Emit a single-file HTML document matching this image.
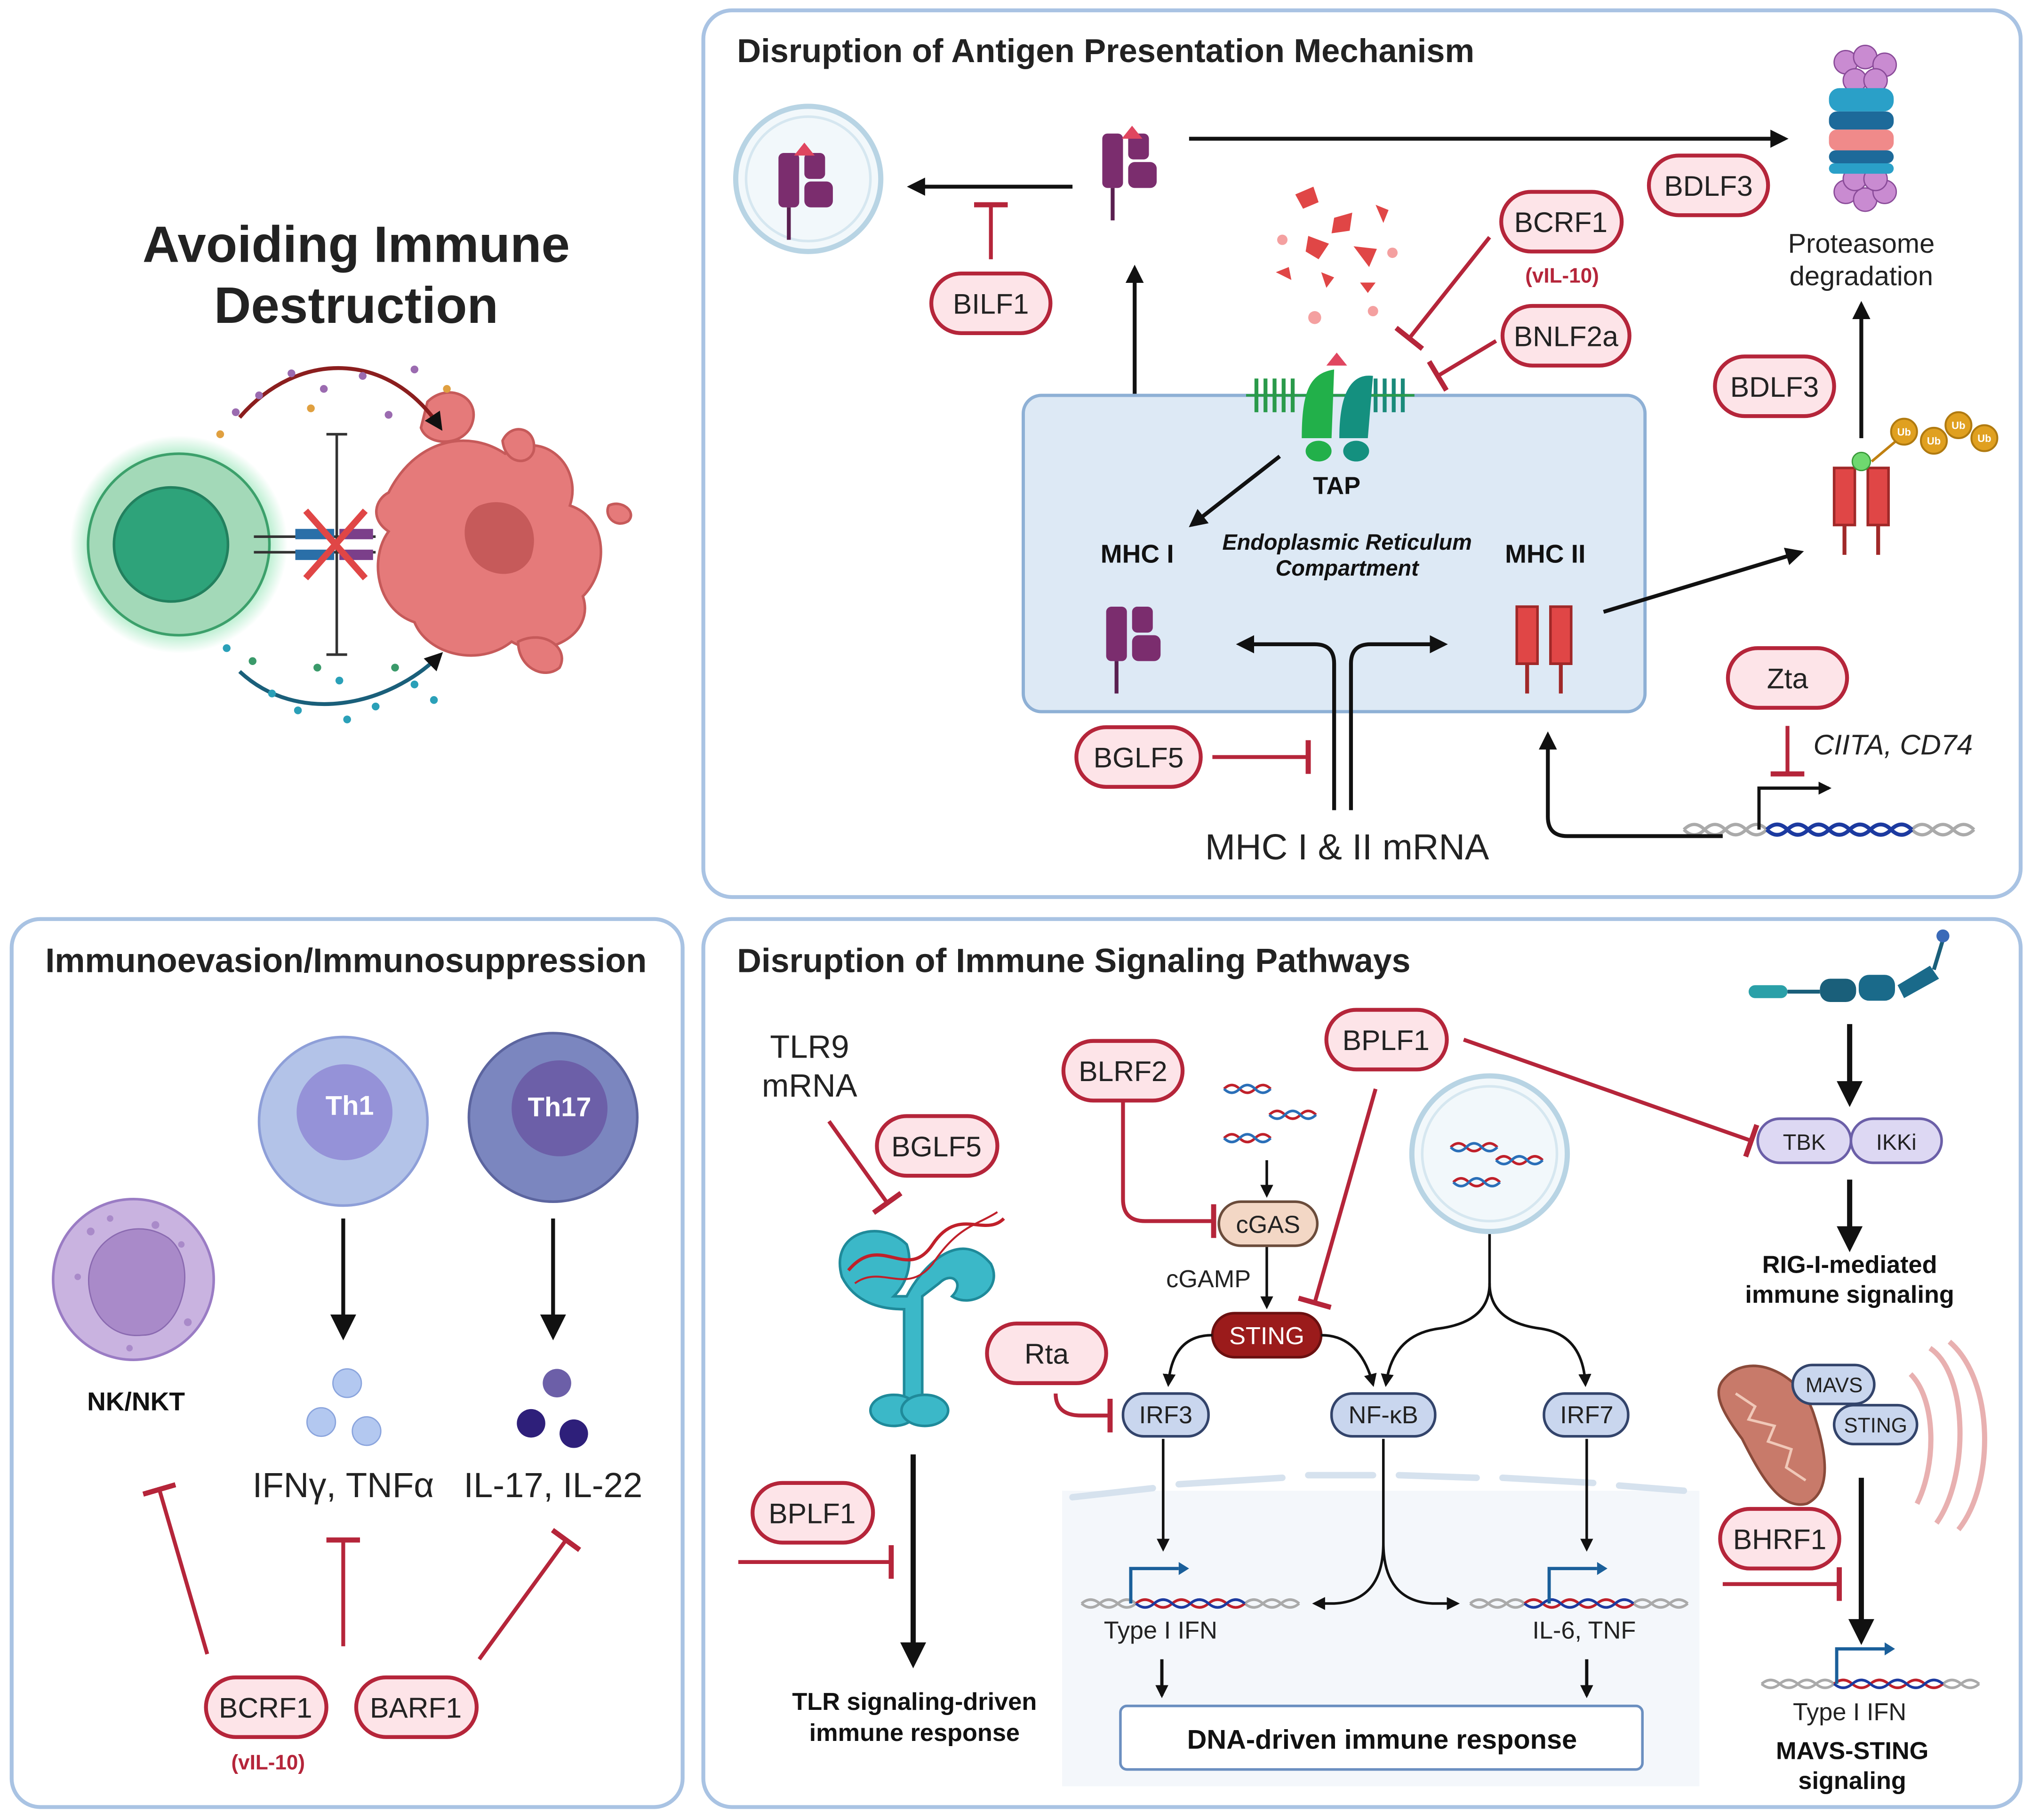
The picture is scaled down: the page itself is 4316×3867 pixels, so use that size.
<!DOCTYPE html>
<html><head><meta charset="utf-8">
<style>
html,body{margin:0;padding:0;background:#fff;}
svg{display:block;}
text{font-family:"Liberation Sans",sans-serif;}
</style></head>
<body>
<svg width="4316" height="3867" viewBox="0 0 1568 1404" preserveAspectRatio="none" xmlns="http://www.w3.org/2000/svg">
<defs>
<marker id="a" viewBox="0 0 10 10" refX="8" refY="5" markerUnits="userSpaceOnUse" markerWidth="14" markerHeight="14" orient="auto"><path d="M0,0L10,5L0,10z" fill="#111"/></marker>
<marker id="as" viewBox="0 0 10 10" refX="8" refY="5" markerUnits="userSpaceOnUse" markerWidth="10" markerHeight="10" orient="auto"><path d="M0,0L10,5L0,10z" fill="#111"/></marker>
<marker id="ab" viewBox="0 0 10 10" refX="8" refY="5" markerUnits="userSpaceOnUse" markerWidth="20" markerHeight="20" orient="auto"><path d="M0,0L10,5L0,10z" fill="#111"/></marker>
<marker id="i" viewBox="0 0 4 10" refX="2" refY="5" markerUnits="userSpaceOnUse" markerWidth="4" markerHeight="26" orient="auto" preserveAspectRatio="none"><rect x="0" y="0" width="4" height="10" fill="#b5253a"/></marker>
<radialGradient id="glow"><stop offset="0.75" stop-color="#7fe0a8" stop-opacity="0.8"/><stop offset="1" stop-color="#7fe0a8" stop-opacity="0"/></radialGradient>
<g id="mhc1"><rect x="-24" y="-22" width="16" height="42" rx="4" fill="#7b2d6e"/><rect x="-4" y="-22" width="16" height="20" rx="4" fill="#7b2d6e"/><rect x="-4" y="0" width="22" height="20" rx="5" fill="#7b2d6e"/><line x1="-16" y1="20" x2="-16" y2="45" stroke="#5a1f50" stroke-width="3"/></g>
<g id="mhc2"><path d="M-24,-22h16v44h-16z M2,-22h16v44h-16z" fill="#e04646" stroke="#a02828" stroke-width="2"/><line x1="-16" y1="22" x2="-16" y2="45" stroke="#a02828" stroke-width="3"/><line x1="10" y1="22" x2="10" y2="45" stroke="#a02828" stroke-width="3"/></g>
</defs>

<!-- Panels -->
<g fill="#fff" stroke="#a9c3e3" stroke-width="3">
<rect x="543" y="8" width="1017" height="684" rx="22"/>
<rect x="9" y="709" width="518" height="685" rx="22"/>
<rect x="543" y="709" width="1017" height="685" rx="22"/>
</g>

<!-- Top-left -->
<text x="275" y="202" font-size="39.5" font-weight="bold" text-anchor="middle" fill="#222">Avoiding Immune</text>
<text x="275" y="249" font-size="39.5" font-weight="bold" text-anchor="middle" fill="#222">Destruction</text>
<circle cx="138" cy="420" r="84" fill="url(#glow)"/>
<circle cx="138" cy="420" r="70" fill="#a3d9b8" stroke="#3ca06b" stroke-width="2"/>
<circle cx="132" cy="420" r="44" fill="#2ea37a" stroke="#22805e" stroke-width="2"/>
<g fill="#e57a7a" stroke="#c65a5a" stroke-width="2">
<path d="M300,380 C320,340 360,330 390,350 C420,330 450,360 440,390 C470,400 470,440 450,460 C460,490 420,510 395,495 C370,515 330,505 320,480 C290,470 285,430 300,410 C285,400 290,385 300,380z"/>
<path d="M330,310 C345,295 370,305 365,325 C360,345 330,345 325,330z"/>
<path d="M388,340 C395,325 415,330 412,348 C408,360 390,358 388,340z"/>
<path d="M400,495 C420,485 440,500 432,515 C420,525 400,515 400,495z"/>
<path d="M470,390 C480,385 492,395 485,402 C475,408 466,398 470,390z"/>
</g>
<path d="M370,390 C395,380 420,400 410,430 C400,450 370,445 362,425 C355,410 360,395 370,390z" fill="#c65a5a"/>
<g stroke="#333" stroke-width="2">
<line x1="196" y1="414" x2="290" y2="414"/><line x1="196" y1="426" x2="290" y2="426"/>
<line x1="260" y1="335" x2="260" y2="505"/><line x1="252" y1="335" x2="268" y2="335"/><line x1="252" y1="505" x2="268" y2="505"/>
</g>
<rect x="228" y="408" width="30" height="8" fill="#2a6fa8"/><rect x="228" y="424" width="30" height="8" fill="#2a6fa8"/>
<rect x="262" y="408" width="26" height="8" fill="#7b3f8a"/><rect x="262" y="424" width="26" height="8" fill="#7b3f8a"/>
<path d="M236,394 L282,446 M282,394 L236,446" stroke="#e04646" stroke-width="5"/>
<path d="M185,322 C230,270 300,270 340,330" fill="none" stroke="#8b1e1e" stroke-width="3" marker-end="url(#a)"/>
<path d="M185,518 C230,560 300,545 340,505" fill="none" stroke="#1a5f7a" stroke-width="3" marker-end="url(#a)"/>
<g fill="#9b6bb0"><circle cx="225" cy="288" r="3"/><circle cx="250" cy="300" r="3"/><circle cx="200" cy="305" r="3"/><circle cx="280" cy="290" r="3"/><circle cx="300" cy="320" r="3"/><circle cx="320" cy="285" r="3"/><circle cx="182" cy="318" r="3"/></g>
<g fill="#e0a040"><circle cx="240" cy="315" r="3"/><circle cx="345" cy="300" r="3"/><circle cx="170" cy="335" r="3"/></g>
<g fill="#2aa0b8"><circle cx="175" cy="500" r="3"/><circle cx="210" cy="535" r="3"/><circle cx="230" cy="548" r="3"/><circle cx="262" cy="525" r="3"/><circle cx="290" cy="545" r="3"/><circle cx="320" cy="528" r="3"/><circle cx="335" cy="540" r="3"/><circle cx="268" cy="555" r="3"/></g>
<g fill="#3a9a6a"><circle cx="195" cy="510" r="3"/><circle cx="245" cy="515" r="3"/><circle cx="305" cy="515" r="3"/></g>

<!-- Top-right panel -->
<text x="569" y="48" font-size="25.6" font-weight="bold" fill="#222">Disruption of Antigen Presentation Mechanism</text>
<circle cx="624" cy="138" r="56" fill="#f2f8fb" stroke="#b8d4e4" stroke-width="4"/>
<circle cx="624" cy="138" r="48" fill="none" stroke="#d6e7f0" stroke-width="2"/>
<use href="#mhc1" x="625" y="140"/><path d="M613,120 l8,-10 l8,10z" fill="#e04660"/>
<use href="#mhc1" x="875" y="125"/><path d="M866,107 l8,-10 l8,10z" fill="#e04660"/>
<line x1="828" y1="144" x2="703" y2="144" stroke="#111" stroke-width="3" marker-end="url(#a)"/>
<line x1="765" y1="200" x2="765" y2="158" stroke="#b5253a" stroke-width="3" marker-end="url(#i)"/>
<line x1="918" y1="107" x2="1378" y2="107" stroke="#111" stroke-width="3" marker-end="url(#a)"/>
<line x1="876" y1="400" x2="876" y2="207" stroke="#111" stroke-width="3" marker-end="url(#a)"/>
<!-- proteasome -->
<g>
<g fill="#c98bd1" stroke="#8a4b99" stroke-width="1"><circle cx="1425" cy="48" r="9"/><circle cx="1440" cy="44" r="9"/><circle cx="1455" cy="50" r="9"/><circle cx="1432" cy="62" r="9"/><circle cx="1448" cy="62" r="9"/>
<circle cx="1425" cy="148" r="9"/><circle cx="1440" cy="154" r="9"/><circle cx="1455" cy="148" r="9"/><circle cx="1432" cy="138" r="9"/><circle cx="1448" cy="138" r="9"/></g>
<rect x="1412" y="68" width="50" height="18" rx="8" fill="#2aa0c8"/>
<rect x="1412" y="86" width="50" height="14" rx="6" fill="#1d6a9a"/>
<rect x="1412" y="100" width="50" height="16" rx="6" fill="#f08a8a"/>
<rect x="1412" y="116" width="50" height="10" rx="5" fill="#1d6a9a"/>
<rect x="1412" y="126" width="50" height="8" rx="4" fill="#2aa0c8"/>
</g>
<text x="1437" y="195" font-size="21" text-anchor="middle" fill="#222">Proteasome</text>
<text x="1437" y="220" font-size="21" text-anchor="middle" fill="#222">degradation</text>
<!-- fragments -->
<g fill="#e04646"><path d="M1000,150 l14,-6 l4,12 l-12,5z"/><path d="M1030,168 l14,-4 l-2,14 l-14,2z"/><path d="M1045,190 l18,2 l-6,14z"/><path d="M1010,182 l16,6 l-8,12 l-10,-6z"/><path d="M1062,158 l10,4 l-4,10z"/><path d="M985,210 l10,-4 l2,10z"/><path d="M1020,210 l10,4 l-6,8z"/><path d="M1050,218 l12,0 l-6,8z"/></g>
<g fill="#f4a0a0"><circle cx="990" cy="185" r="4"/><circle cx="1075" cy="195" r="4"/><circle cx="1015" cy="245" r="5"/><circle cx="1060" cy="240" r="4"/></g>
<line x1="1150" y1="183" x2="1088" y2="261" stroke="#b5253a" stroke-width="3" marker-end="url(#i)"/>
<line x1="1155" y1="263" x2="1110" y2="290" stroke="#b5253a" stroke-width="3" marker-end="url(#i)"/>
<!-- ER -->
<rect x="790" y="305" width="480" height="244" rx="14" fill="#dde9f5" stroke="#8eb0d5" stroke-width="2.5"/>
<!-- TAP -->
<g stroke="#2a9a4a" stroke-width="3"><line x1="970" y1="292" x2="970" y2="318"/><line x1="977" y1="292" x2="977" y2="318"/><line x1="984" y1="292" x2="984" y2="318"/><line x1="991" y1="292" x2="991" y2="318"/><line x1="998" y1="292" x2="998" y2="318"/></g>
<g stroke="#1a8a7a" stroke-width="3"><line x1="1062" y1="292" x2="1062" y2="318"/><line x1="1069" y1="292" x2="1069" y2="318"/><line x1="1076" y1="292" x2="1076" y2="318"/><line x1="1083" y1="292" x2="1083" y2="318"/></g>
<line x1="962" y1="305" x2="1092" y2="305" stroke="#2a9a4a" stroke-width="2"/>
<path d="M1005,338 C1005,300 1012,288 1030,285 L1028,338z" fill="#22b04a"/>
<path d="M1034,338 C1034,300 1045,288 1060,290 L1056,338z" fill="#14907f"/>
<ellipse cx="1018" cy="348" rx="10" ry="8" fill="#22b04a"/><ellipse cx="1047" cy="348" rx="10" ry="8" fill="#14907f"/>
<path d="M1024,282 l8,-10 l8,10z" fill="#e04660"/>
<text x="1032" y="381" font-size="19" font-weight="bold" text-anchor="middle" fill="#111">TAP</text>
<line x1="988" y1="352" x2="920" y2="405" stroke="#111" stroke-width="3" marker-end="url(#a)"/>
<text x="878" y="434" font-size="20" font-weight="bold" text-anchor="middle" fill="#111">MHC I</text>
<text x="1040" y="424" font-size="17" font-weight="bold" font-style="italic" text-anchor="middle" fill="#111">Endoplasmic Reticulum</text>
<text x="1040" y="444" font-size="17" font-weight="bold" font-style="italic" text-anchor="middle" fill="#111">Compartment</text>
<text x="1193" y="434" font-size="20" font-weight="bold" text-anchor="middle" fill="#111">MHC II</text>
<use href="#mhc1" x="878" y="490"/>
<use href="#mhc2" x="1195" y="490"/>
<line x1="1238" y1="472" x2="1390" y2="426" stroke="#111" stroke-width="3" marker-end="url(#a)"/>
<use href="#mhc2" x="1440" y="383"/>
<circle cx="1437" cy="356" r="7" fill="#6fd86f" stroke="#3a9a3a"/>
<line x1="1445" y1="356" x2="1470" y2="335" stroke="#c08010" stroke-width="2"/>
<g fill="#e0a020" stroke="#b07a10" stroke-width="1.5"><circle cx="1470" cy="333" r="10"/><circle cx="1493" cy="340" r="10"/><circle cx="1512" cy="328" r="10"/><circle cx="1532" cy="338" r="10"/></g>
<g font-size="8" font-weight="bold" fill="#fff" text-anchor="middle"><text x="1470" y="336">Ub</text><text x="1493" y="343">Ub</text><text x="1512" y="331">Ub</text><text x="1532" y="341">Ub</text></g>
<line x1="1437" y1="338" x2="1437" y2="235" stroke="#111" stroke-width="3" marker-end="url(#a)"/>
<line x1="1380" y1="560" x2="1380" y2="597" stroke="#b5253a" stroke-width="3" marker-end="url(#i)"/>
<text x="1400" y="582" font-size="22" font-style="italic" fill="#222">CIITA, CD74</text>
<!-- DNA top -->
<path d="M1300,640 q8,-8 16,0 t16,0 t16,0 t16,0 t16,0 t16,0 t16,0 t16,0 t16,0 t16,0 t16,0 t16,0 t16,0 t16,0" fill="none" stroke="#aaa" stroke-width="2.5"/>
<path d="M1300,640 q8,8 16,0 t16,0 t16,0 t16,0 t16,0 t16,0 t16,0 t16,0 t16,0 t16,0 t16,0 t16,0 t16,0 t16,0" fill="none" stroke="#aaa" stroke-width="2.5"/>
<path d="M1364,640 q8,-8 16,0 t16,0 t16,0 t16,0 t16,0 t16,0 t16,0" fill="none" stroke="#1c3aa0" stroke-width="3"/>
<path d="M1364,640 q8,8 16,0 t16,0 t16,0 t16,0 t16,0 t16,0 t16,0" fill="none" stroke="#1c3aa0" stroke-width="3"/>
<path d="M1358,640 V608 H1412" fill="none" stroke="#111" stroke-width="2.5" marker-end="url(#as)"/>
<path d="M1330,645 H1210 Q1195,645 1195,630 V567" fill="none" stroke="#111" stroke-width="3" marker-end="url(#a)"/>
<!-- mRNA -->
<path d="M1030,625 V512 Q1030,497 1015,497 H957" fill="none" stroke="#111" stroke-width="3" marker-end="url(#a)"/>
<path d="M1043,625 V512 Q1043,497 1058,497 H1115" fill="none" stroke="#111" stroke-width="3" marker-end="url(#a)"/>
<line x1="936" y1="584" x2="1010" y2="584" stroke="#b5253a" stroke-width="3" marker-end="url(#i)"/>
<text x="1040" y="663" font-size="28" text-anchor="middle" fill="#222">MHC I &amp; II mRNA</text>

<!-- pills -->
<g fill="#fde4e8" stroke="#b5253a" stroke-width="3">
<rect x="719" y="211" width="92" height="46" rx="23"/>
<rect x="1273" y="120" width="92" height="46" rx="23"/>
<rect x="1159" y="148" width="93" height="46" rx="23"/>
<rect x="1160" y="236" width="98" height="46" rx="23"/>
<rect x="1324" y="275" width="92" height="46" rx="23"/>
<rect x="1334" y="500" width="92" height="46" rx="23"/>
<rect x="831" y="561" width="96" height="46" rx="23"/>
<rect x="159" y="1294" width="93" height="46" rx="23"/>
<rect x="275" y="1294" width="93" height="46" rx="23"/>
<rect x="677" y="861" width="93" height="46" rx="23"/>
<rect x="581" y="1144" width="93" height="46" rx="23"/>
<rect x="821" y="803" width="92" height="46" rx="23"/>
<rect x="1024" y="779" width="93" height="46" rx="23"/>
<rect x="762" y="1021" width="92" height="46" rx="23"/>
<rect x="1328" y="1164" width="92" height="46" rx="23"/>
</g>
<g font-size="22" text-anchor="middle" fill="#222">
<text x="765" y="242">BILF1</text>
<text x="1319" y="151">BDLF3</text>
<text x="1205" y="179">BCRF1</text>
<text x="1209" y="267">BNLF2a</text>
<text x="1370" y="306">BDLF3</text>
<text x="1380" y="531">Zta</text>
<text x="879" y="592">BGLF5</text>
<text x="205" y="1325">BCRF1</text>
<text x="321" y="1325">BARF1</text>
<text x="723" y="892">BGLF5</text>
<text x="627" y="1175">BPLF1</text>
<text x="867" y="834">BLRF2</text>
<text x="1070" y="810">BPLF1</text>
<text x="808" y="1052">Rta</text>
<text x="1374" y="1195">BHRF1</text>
</g>
<text x="1206" y="218" font-size="16" font-weight="bold" text-anchor="middle" fill="#b5253a">(vIL-10)</text>
<text x="207" y="1365" font-size="16" font-weight="bold" text-anchor="middle" fill="#b5253a">(vIL-10)</text>

<!-- Bottom-left -->
<text x="35" y="750" font-size="26.2" font-weight="bold" fill="#222">Immunoevasion/Immunosuppression</text>
<circle cx="265" cy="865" r="65" fill="#b3c3e8" stroke="#8e9fd8" stroke-width="2"/>
<circle cx="266" cy="858" r="37" fill="#9592d8"/>
<text x="270" y="860" font-size="21" font-weight="bold" text-anchor="middle" fill="#fff">Th1</text>
<circle cx="427" cy="862" r="65" fill="#7b86bf" stroke="#5c659f" stroke-width="2"/>
<circle cx="432" cy="855" r="37" fill="#6c5fa8"/>
<text x="432" y="861" font-size="21" font-weight="bold" text-anchor="middle" fill="#fff">Th17</text>
<circle cx="103" cy="987" r="62" fill="#c9b3e0" stroke="#9a7cc4" stroke-width="2"/>
<path d="M70,1000 C60,960 100,935 130,955 C155,975 140,1030 110,1030 C90,1032 75,1020 70,1000z" fill="#a98ac9" stroke="#8a6ab0"/>
<g fill="#a98ac9"><circle cx="70" cy="950" r="3"/><circle cx="85" cy="940" r="2.5"/><circle cx="120" cy="945" r="3"/><circle cx="140" cy="960" r="2.5"/><circle cx="60" cy="985" r="2.5"/><circle cx="145" cy="1020" r="3"/><circle cx="100" cy="1040" r="2.5"/></g>
<text x="105" y="1088" font-size="20" font-weight="bold" text-anchor="middle" fill="#111">NK/NKT</text>
<line x1="265" y1="940" x2="265" y2="1030" stroke="#111" stroke-width="3" marker-end="url(#ab)"/>
<line x1="427" y1="940" x2="427" y2="1030" stroke="#111" stroke-width="3" marker-end="url(#ab)"/>
<g fill="#b3c8f0" stroke="#8aa4dd"><circle cx="268" cy="1067" r="11"/><circle cx="248" cy="1097" r="11"/><circle cx="283" cy="1104" r="11"/></g>
<g fill="#2e1f7a"><circle cx="430" cy="1067" r="11" fill="#6c5fa8"/><circle cx="410" cy="1098" r="11"/><circle cx="443" cy="1106" r="11"/></g>
<text x="265" y="1155" font-size="27" text-anchor="middle" fill="#222">IFNγ, TNFα</text>
<text x="427" y="1155" font-size="27" text-anchor="middle" fill="#222">IL-17, IL-22</text>
<line x1="160" y1="1276" x2="123" y2="1149" stroke="#b5253a" stroke-width="3" marker-end="url(#i)"/>
<line x1="265" y1="1270" x2="265" y2="1188" stroke="#b5253a" stroke-width="3" marker-end="url(#i)"/>
<line x1="370" y1="1280" x2="437" y2="1188" stroke="#b5253a" stroke-width="3" marker-end="url(#i)"/>

<!-- Bottom-right -->
<text x="569" y="750" font-size="26" font-weight="bold" fill="#222">Disruption of Immune Signaling Pathways</text>
<text x="625" y="816" font-size="25" text-anchor="middle" fill="#222">TLR9</text>
<text x="625" y="846" font-size="25" text-anchor="middle" fill="#222">mRNA</text>
<line x1="640" y1="865" x2="685" y2="928" stroke="#b5253a" stroke-width="3" marker-end="url(#i)"/>
<!-- TLR -->
<g fill="#3bb8c8" stroke="#1f8a9a" stroke-width="2">
<path d="M650,985 C640,950 680,940 700,960 C705,975 700,990 690,1000 L700,1000 C710,980 740,945 765,975 C775,995 750,1010 735,1000 C745,990 735,980 725,990 L712,1000 L712,1090 L698,1090 L698,1010 C680,1010 660,1005 650,985z"/>
<ellipse cx="690" cy="1088" rx="18" ry="12"/><ellipse cx="714" cy="1088" rx="18" ry="12"/>
</g>
<path d="M655,980 C680,950 700,990 720,960 C740,930 760,955 775,940" fill="none" stroke="#c0202a" stroke-width="2.5"/>
<path d="M660,990 C680,975 700,1000 720,975 C740,945 755,945 770,935" fill="none" stroke="#c0202a" stroke-width="1.5"/>
<line x1="705" y1="1122" x2="705" y2="1283" stroke="#111" stroke-width="4" marker-end="url(#ab)"/>
<line x1="570" y1="1205" x2="688" y2="1205" stroke="#b5253a" stroke-width="3" marker-end="url(#i)"/>
<text x="706" y="1319" font-size="19" font-weight="bold" text-anchor="middle" fill="#111">TLR signaling-driven</text>
<text x="706" y="1343" font-size="19" font-weight="bold" text-anchor="middle" fill="#111">immune response</text>
<!-- BLRF2 -->
<path d="M867,850 V925 Q867,942 884,942 H937" fill="none" stroke="#b5253a" stroke-width="3" marker-end="url(#i)"/>
<g fill="none" stroke-width="2">
<path d="M945,840 q6,-6 12,0 t12,0 t12,0" stroke="#c0202a"/><path d="M945,840 q6,6 12,0 t12,0 t12,0" stroke="#2a6fb8"/>
<path d="M980,860 q6,-6 12,0 t12,0 t12,0" stroke="#c0202a"/><path d="M980,860 q6,6 12,0 t12,0 t12,0" stroke="#2a6fb8"/>
<path d="M945,878 q6,-6 12,0 t12,0 t12,0" stroke="#c0202a"/><path d="M945,878 q6,6 12,0 t12,0 t12,0" stroke="#2a6fb8"/>
</g>
<line x1="978" y1="895" x2="978" y2="922" stroke="#111" stroke-width="2" marker-end="url(#as)"/>
<rect x="941" y="927" width="76" height="34" rx="17" fill="#f3d7c5" stroke="#6b4c3b" stroke-width="2"/>
<text x="979" y="951" font-size="19" text-anchor="middle" fill="#222">cGAS</text>
<text x="933" y="993" font-size="19" text-anchor="middle" fill="#222">cGAMP</text>
<line x1="978" y1="962" x2="978" y2="1008" stroke="#111" stroke-width="2" marker-end="url(#as)"/>
<line x1="1062" y1="840" x2="1015" y2="1005" stroke="#b5253a" stroke-width="3" marker-end="url(#i)"/>
<rect x="936" y="1013" width="84" height="34" rx="17" fill="#9b1b1b" stroke="#6b1010" stroke-width="2"/>
<text x="978" y="1037" font-size="19" text-anchor="middle" fill="#fff">STING</text>
<line x1="1130" y1="802" x2="1352" y2="880" stroke="#b5253a" stroke-width="3" marker-end="url(#i)"/>
<!-- vesicle -->
<circle cx="1150" cy="890" r="60" fill="#f2f8fb" stroke="#b8d4e4" stroke-width="4"/>
<circle cx="1150" cy="890" r="52" fill="none" stroke="#d6e7f0" stroke-width="2"/>
<g fill="none" stroke-width="2">
<path d="M1120,885 q6,-6 12,0 t12,0 t12,0" stroke="#c0202a"/><path d="M1120,885 q6,6 12,0 t12,0 t12,0" stroke="#2a6fb8"/>
<path d="M1155,895 q6,-6 12,0 t12,0 t12,0" stroke="#c0202a"/><path d="M1155,895 q6,6 12,0 t12,0 t12,0" stroke="#2a6fb8"/>
<path d="M1122,912 q6,-6 12,0 t12,0 t12,0" stroke="#c0202a"/><path d="M1122,912 q6,6 12,0 t12,0 t12,0" stroke="#2a6fb8"/>
</g>
<path d="M1150,952 V990 Q1150,1020 1110,1025 Q1075,1030 1070,1068" fill="none" stroke="#111" stroke-width="2" marker-end="url(#as)"/>
<path d="M1150,990 Q1150,1020 1190,1025 Q1222,1030 1224,1068" fill="none" stroke="#111" stroke-width="2" marker-end="url(#as)"/>
<path d="M936,1030 Q905,1030 902,1068" fill="none" stroke="#111" stroke-width="2" marker-end="url(#as)"/>
<path d="M1020,1030 Q1050,1030 1060,1068" fill="none" stroke="#111" stroke-width="2" marker-end="url(#as)"/>
<path d="M815,1075 Q815,1092 835,1092 H857" fill="none" stroke="#b5253a" stroke-width="3" marker-end="url(#i)"/>
<!-- nucleus -->
<rect x="820" y="1150" width="492" height="228" fill="#f4f7fb"/>
<g stroke="#d6e2ee" stroke-width="5" stroke-linecap="round"><line x1="828" y1="1155" x2="890" y2="1148"/><line x1="910" y1="1145" x2="990" y2="1140"/><line x1="1010" y1="1138" x2="1060" y2="1138"/><line x1="1080" y1="1138" x2="1140" y2="1140"/><line x1="1160" y1="1140" x2="1230" y2="1144"/><line x1="1250" y1="1146" x2="1300" y2="1150"/></g>
<g fill="#c9d6ee" stroke="#33446b" stroke-width="2">
<rect x="867" y="1075" width="66" height="33" rx="16"/>
<rect x="1028" y="1075" width="80" height="33" rx="16"/>
<rect x="1192" y="1075" width="65" height="33" rx="16"/>
</g>
<g font-size="19" text-anchor="middle" fill="#222"><text x="900" y="1098">IRF3</text><text x="1068" y="1098">NF-κB</text><text x="1225" y="1098">IRF7</text></g>
<line x1="898" y1="1110" x2="898" y2="1195" stroke="#111" stroke-width="2" marker-end="url(#as)"/>
<line x1="1225" y1="1110" x2="1225" y2="1195" stroke="#111" stroke-width="2" marker-end="url(#as)"/>
<path d="M1068,1110 V1190 Q1068,1235 1030,1237 H1015" fill="none" stroke="#111" stroke-width="2" marker-end="url(#as)"/>
<path d="M1068,1190 Q1068,1235 1106,1237 H1125" fill="none" stroke="#111" stroke-width="2" marker-end="url(#as)"/>
<g fill="none" stroke-width="2">
<path d="M835,1237 q7,-6 14,0 t14,0 t14,0 t14,0 t14,0 t14,0 t14,0 t14,0 t14,0 t14,0 t14,0 t14,0" stroke="#aaa"/>
<path d="M835,1237 q7,6 14,0 t14,0 t14,0 t14,0 t14,0 t14,0 t14,0 t14,0 t14,0 t14,0 t14,0 t14,0" stroke="#aaa"/>
<path d="M877,1237 q7,-6 14,0 t14,0 t14,0 t14,0 t14,0 t14,0" stroke="#c0202a"/>
<path d="M877,1237 q7,6 14,0 t14,0 t14,0 t14,0 t14,0 t14,0" stroke="#1c3aa0"/>
<path d="M1135,1237 q7,-6 14,0 t14,0 t14,0 t14,0 t14,0 t14,0 t14,0 t14,0 t14,0 t14,0 t14,0 t14,0" stroke="#aaa"/>
<path d="M1135,1237 q7,6 14,0 t14,0 t14,0 t14,0 t14,0 t14,0 t14,0 t14,0 t14,0 t14,0 t14,0 t14,0" stroke="#aaa"/>
<path d="M1177,1237 q7,-6 14,0 t14,0 t14,0 t14,0 t14,0 t14,0" stroke="#c0202a"/>
<path d="M1177,1237 q7,6 14,0 t14,0 t14,0 t14,0 t14,0 t14,0" stroke="#1c3aa0"/>
<path d="M1360,1299 q7,-6 14,0 t14,0 t14,0 t14,0 t14,0 t14,0 t14,0 t14,0 t14,0 t14,0 t14,0 t14,0" stroke="#aaa"/>
<path d="M1360,1299 q7,6 14,0 t14,0 t14,0 t14,0 t14,0 t14,0 t14,0 t14,0 t14,0 t14,0 t14,0 t14,0" stroke="#aaa"/>
<path d="M1416,1299 q7,-6 14,0 t14,0 t14,0 t14,0 t14,0 t14,0" stroke="#c0202a"/>
<path d="M1416,1299 q7,6 14,0 t14,0 t14,0 t14,0 t14,0 t14,0" stroke="#1c3aa0"/>
</g>
<g fill="none" stroke="#1a5f9a" stroke-width="2.5">
<path d="M873,1237 V1210 H910"/><path d="M1196,1237 V1210 H1233"/><path d="M1418,1299 V1272 H1455"/>
</g>
<g fill="#1a5f9a"><path d="M910,1205 l8,5 l-8,5z"/><path d="M1233,1205 l8,5 l-8,5z"/><path d="M1455,1267 l8,5 l-8,5z"/></g>
<text x="896" y="1264" font-size="19" text-anchor="middle" fill="#222">Type I IFN</text>
<text x="1223" y="1264" font-size="19" text-anchor="middle" fill="#222">IL-6, TNF</text>
<line x1="897" y1="1280" x2="897" y2="1308" stroke="#111" stroke-width="2.5" marker-end="url(#as)"/>
<line x1="1225" y1="1280" x2="1225" y2="1308" stroke="#111" stroke-width="2.5" marker-end="url(#as)"/>
<rect x="865" y="1316" width="403" height="49" rx="5" fill="#fff" stroke="#6b8fc0" stroke-width="2"/>
<text x="1067" y="1349" font-size="21" font-weight="bold" text-anchor="middle" fill="#111">DNA-driven immune response</text>
<!-- RIG-I -->
<rect x="1350" y="760" width="30" height="10" rx="5" fill="#2aa0a8"/>
<line x1="1380" y1="765" x2="1405" y2="765" stroke="#1a5f7a" stroke-width="3"/>
<rect x="1405" y="755" width="28" height="18" rx="8" fill="#1a5f7a"/>
<rect x="1435" y="752" width="28" height="20" rx="8" fill="#1a6a8a"/>
<path d="M1465,760 L1490,745 L1497,755 L1470,770z" fill="#1a6a8a"/>
<line x1="1493" y1="748" x2="1500" y2="725" stroke="#1a5f7a" stroke-width="3"/>
<circle cx="1500" cy="722" r="5" fill="#3a6ab8"/>
<line x1="1428" y1="790" x2="1428" y2="850" stroke="#111" stroke-width="4" marker-end="url(#ab)"/>
<rect x="1357" y="863" width="72" height="34" rx="17" fill="#ddd8f3" stroke="#6b5fa8" stroke-width="2"/>
<rect x="1429" y="863" width="70" height="34" rx="17" fill="#ddd8f3" stroke="#6b5fa8" stroke-width="2"/>
<text x="1393" y="887" font-size="17" text-anchor="middle" fill="#222">TBK</text>
<text x="1464" y="887" font-size="17" text-anchor="middle" fill="#222">IKKi</text>
<line x1="1428" y1="910" x2="1428" y2="962" stroke="#111" stroke-width="4" marker-end="url(#ab)"/>
<text x="1428" y="982" font-size="19" font-weight="bold" text-anchor="middle" fill="#111">RIG-I-mediated</text>
<text x="1428" y="1005" font-size="19" font-weight="bold" text-anchor="middle" fill="#111">immune signaling</text>
<!-- mito + ER -->
<path d="M1330,1065 C1350,1040 1390,1060 1400,1090 C1410,1120 1415,1150 1395,1160 C1375,1165 1360,1140 1345,1110 C1330,1090 1322,1075 1330,1065z" fill="#c87a6a" stroke="#8a4a3a" stroke-width="2"/>
<path d="M1340,1075 l15,10 l-5,10 l20,5 l-5,12 l18,6 l-4,14 l15,10" fill="none" stroke="#f0c8b8" stroke-width="2"/>
<g fill="none" stroke="#e8b0b0" stroke-width="4">
<path d="M1490,1040 C1520,1060 1520,1140 1495,1175"/><path d="M1505,1035 C1540,1065 1540,1145 1512,1180"/><path d="M1475,1060 C1495,1080 1495,1130 1480,1160"/>
</g>
<rect x="1384" y="1053" width="63" height="30" rx="15" fill="#c9d6ee" stroke="#33446b" stroke-width="2"/>
<text x="1416" y="1074" font-size="16" text-anchor="middle" fill="#222">MAVS</text>
<rect x="1416" y="1084" width="64" height="30" rx="15" fill="#c9d6ee" stroke="#33446b" stroke-width="2"/>
<text x="1448" y="1105" font-size="16" text-anchor="middle" fill="#222">STING</text>
<line x1="1437" y1="1140" x2="1437" y2="1265" stroke="#111" stroke-width="4" marker-end="url(#ab)"/>
<line x1="1330" y1="1222" x2="1420" y2="1222" stroke="#b5253a" stroke-width="3" marker-end="url(#i)"/>
<text x="1428" y="1327" font-size="19" text-anchor="middle" fill="#222">Type I IFN</text>
<text x="1430" y="1357" font-size="19" font-weight="bold" text-anchor="middle" fill="#111">MAVS-STING</text>
<text x="1430" y="1380" font-size="19" font-weight="bold" text-anchor="middle" fill="#111">signaling</text>
</svg>
</body></html>
